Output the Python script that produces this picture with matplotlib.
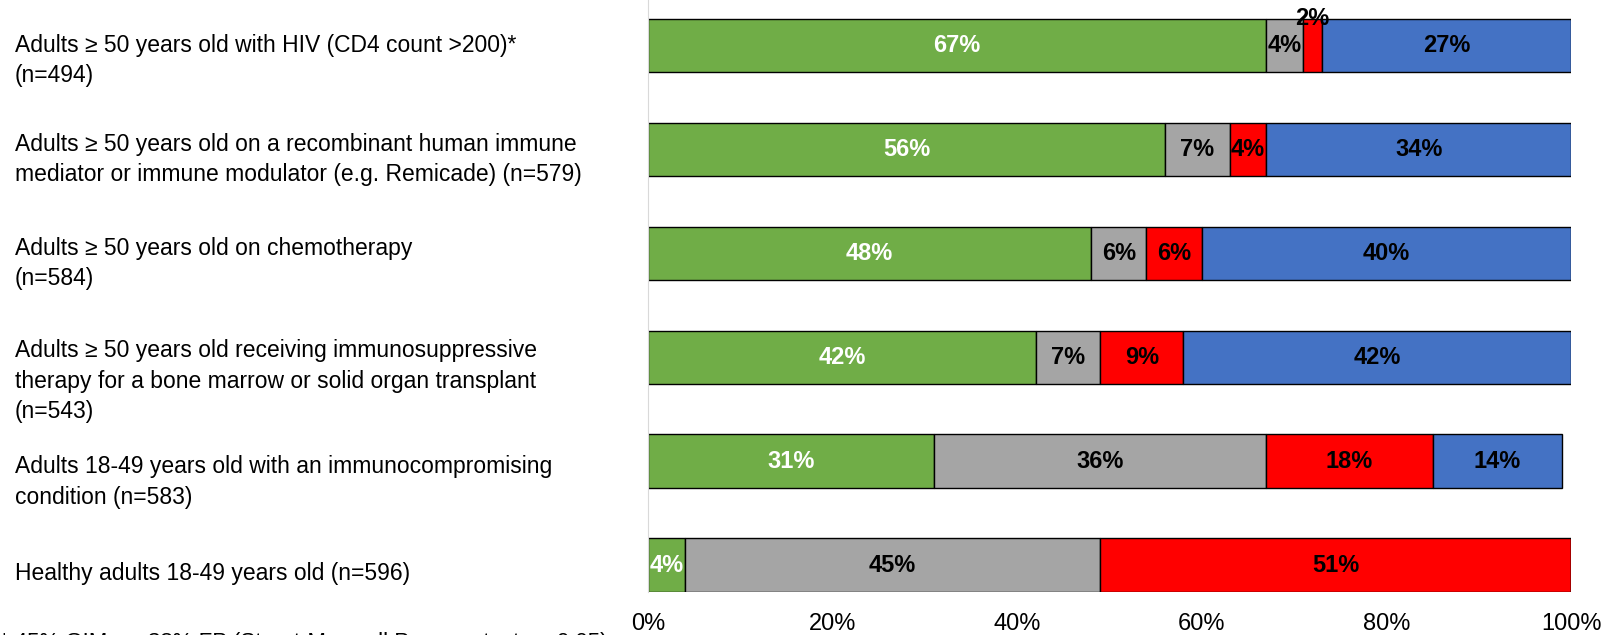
"""Stacked 100% bar chart of response shares by patient group."""
import matplotlib

matplotlib.use("Agg")
import matplotlib.pyplot as plt
from matplotlib.transforms import blended_transform_factory, offset_copy

plt.rcParams["font.family"] = ["Liberation Sans", "DejaVu Sans"]

groups = [
    "Adults \u2265 50 years old with HIV (CD4 count >200)*\n(n=494)",
    "Adults \u2265 50 years old on a recombinant human immune\n"
    "mediator or immune modulator (e.g. Remicade) (n=579)",
    "Adults \u2265 50 years old on chemotherapy\n(n=584)",
    "Adults \u2265 50 years old receiving immunosuppressive\n"
    "therapy for a bone marrow or solid organ transplant\n(n=543)",
    "Adults 18-49 years old with an immunocompromising\ncondition (n=583)",
    "Healthy adults 18-49 years old (n=596)",
]

# segment widths (percent of respondents)
green = [67, 56, 48, 42, 31, 4]
gray = [4, 7, 6, 7, 36, 45]
red = [2, 4, 6, 9, 18, 51]
blue = [27, 33, 40, 42, 14, 0]

# printed labels (as shown on the chart)
green_lbl = ["67%", "56%", "48%", "42%", "31%", "4%"]
gray_lbl = ["4%", "7%", "6%", "7%", "36%", "45%"]
red_lbl = ["2%", "4%", "6%", "9%", "18%", "51%"]
blue_lbl = ["27%", "34%", "40%", "42%", "14%", ""]

xticks = [0, 20, 40, 60, 80, 100]
footnote = "* 45% GIM vs. 38% FP (Stuart-Maxwell Pearson test, p<0.05)"

series = [
    (green, green_lbl, "#70AD47", "white"),
    (gray, gray_lbl, "#A5A5A5", "black"),
    (red, red_lbl, "#FF0000", "black"),
    (blue, blue_lbl, "#4472C4", "black"),
]

fig = plt.figure(figsize=(16.14, 6.35), dpi=100)
ax = fig.add_axes([0.4015, 0.0677, 0.5719, 0.9323])

y = list(range(len(groups)))
left = [0.0] * len(groups)
bar_h = 0.515
for vals, lbls, color, tcolor in series:
    ax.barh(y, vals, left=left, height=bar_h, color=color,
            edgecolor="black", linewidth=1.0)
    for i, (v, lb) in enumerate(zip(vals, lbls)):
        if not lb:
            continue
        ty = y[i]
        # tiny slice label gets pushed up onto the bar's top edge
        if v <= 2:
            ty = y[i] - 0.26
        ax.text(left[i] + v / 2, ty, lb, ha="center", va="center",
                color=tcolor, fontsize=17, fontweight="bold")
    left = [a + b for a, b in zip(left, vals)]

ax.set_xlim(0, 100)
ax.set_ylim(5.2575, -0.436)
ax.set_xticks(xticks)
ax.set_xticklabels([f"{t}%" for t in xticks], fontsize=17)
ax.set_yticks([])
ax.tick_params(axis="x", length=0, pad=15)
for s in ("top", "right", "bottom"):
    ax.spines[s].set_visible(False)
ax.spines["left"].set_color("#D9D9D9")

# category labels sit a little below their bars (pixel nudges)
label_drop_px = [15, 10, 10, 24, 21, 8]
trans = blended_transform_factory(fig.transFigure, ax.transData)
for i, g in enumerate(groups):
    tr = offset_copy(trans, fig=fig, y=-label_drop_px[i], units="dots")
    ax.text(0.009, y[i], g, transform=tr, ha="left", va="center",
            fontsize=16.5, linespacing=1.42, clip_on=False)

fig.text(0.0, 1 - 632 / 635, footnote, ha="left", va="top", fontsize=16)

fig.savefig("out.png", dpi=100)
plt.close(fig)
